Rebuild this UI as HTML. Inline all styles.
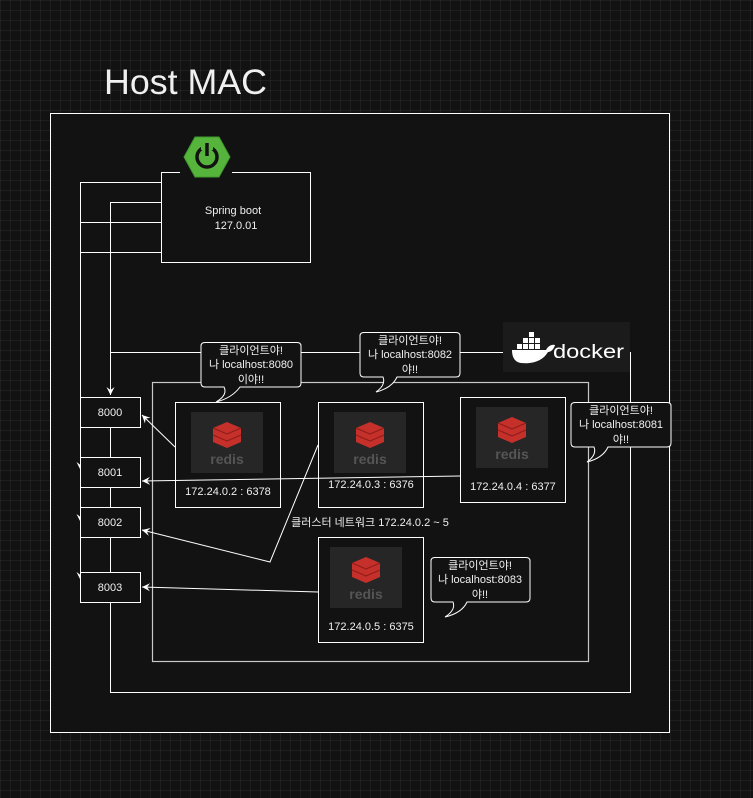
<!DOCTYPE html>
<html><head><meta charset="utf-8"><style>
html,body{margin:0;padding:0;}
body{width:753px;height:793px;overflow:hidden;background-color:#121212;
background-image:linear-gradient(rgba(255,255,255,0.05) 1px,transparent 1px),linear-gradient(90deg,rgba(255,255,255,0.05) 1px,transparent 1px);
background-size:10px 10px;}
svg text{font-family:"Liberation Sans","Noto Sans CJK KR",sans-serif;fill:#f0f0f0;}
</style></head><body>
<svg width="753" height="793" viewBox="0 0 753 793" xmlns="http://www.w3.org/2000/svg">
<defs>
<marker id="ar" markerWidth="10" markerHeight="10" refX="8" refY="5" orient="auto" markerUnits="userSpaceOnUse">
<path d="M0,1 L8,5 L0,9 L3,5 Z" fill="#fff"/></marker>
</defs>
<text x="104" y="94" font-size="35" textLength="163" lengthAdjust="spacingAndGlyphs">Host MAC</text>
<rect x="50.5" y="113.5" width="619" height="619" fill="#121212" stroke="#fff" stroke-width="1"/>
<g fill="none" stroke="#fff" stroke-width="1">
<path d="M161,182.5 H80.5 V580"/>
<path d="M80.5,222.5 H161 M80.5,252.5 H161"/>
<path d="M161,202.5 H110.5 V395" marker-end="url(#ar)"/>
<path d="M110.5,352.5 H503"/>
<path d="M80.5,440 V470" marker-end="url(#ar)"/>
<path d="M80.5,500 V522" marker-end="url(#ar)"/>
<path d="M80.5,560 V580" marker-end="url(#ar)"/>
<path d="M110.5,427 V457 M110.5,487 V507 M110.5,537 V572"/>
<path d="M110.5,602 V692.5 H630.5 V352"/>
</g>
<rect x="161.5" y="172.5" width="149" height="90" fill="#121212" stroke="#fff"/>
<text x="233" y="214" font-size="11" text-anchor="middle">Spring boot</text>
<text x="236" y="229" font-size="11" text-anchor="middle">127.0.01</text>
<rect x="180" y="168" width="52" height="8" fill="#121212"/>
<polygon points="184,157 195,137 219,137 230,157 219,177 195,177" fill="#56b43c" stroke="#3e9a2c"/>
<circle cx="207" cy="157" r="10" fill="none" stroke="#121212" stroke-width="3.5"/>
<rect x="201" y="142" width="12" height="8" fill="#56b43c"/>
<line x1="207" y1="143" x2="207" y2="156" stroke="#121212" stroke-width="3.5"/>
<rect x="503" y="322" width="127" height="50" fill="#1b1b1b"/>
<g fill="#fff">
<path d="M512,350 H546 C548,346 552,344 555,345 C554,349 551,352 548,352 C542,362 531,364 521,363 C514,362 512,356 512,350 Z"/>
<rect x="517" y="344" width="5" height="5"/><rect x="523" y="344" width="5" height="5"/><rect x="529" y="344" width="5" height="5"/><rect x="535" y="344" width="5" height="5"/>
<rect x="523" y="338" width="5" height="5"/><rect x="529" y="338" width="5" height="5"/><rect x="535" y="338" width="5" height="5"/><rect x="529" y="332" width="5" height="5"/>
</g>
<text x="553" y="358" font-size="19" textLength="71" lengthAdjust="spacingAndGlyphs" style="fill:#fff">docker</text>
<rect x="152.5" y="382.5" width="436" height="279" fill="none" stroke="#c8c8c8" stroke-width="1.2"/>
<text x="370" y="526" font-size="11" text-anchor="middle">클러스터 네트워크 172.24.0.2 ~ 5</text>
<g fill="#121212" stroke="#fff">
<rect x="80.5" y="397.5" width="60" height="30"/>
<rect x="80.5" y="457.5" width="60" height="30"/>
<rect x="80.5" y="507.5" width="60" height="30"/>
<rect x="80.5" y="572.5" width="60" height="30"/>
</g>
<g font-size="11" text-anchor="middle">
<text x="110" y="416">8000</text><text x="110" y="476">8001</text><text x="110" y="526">8002</text><text x="110" y="591">8003</text>
</g>
<g fill="#121212" stroke="#fff">
<rect x="175.5" y="402.5" width="105" height="105"/>
<rect x="318.5" y="402.5" width="105" height="105"/>
<rect x="460.5" y="397.5" width="105" height="105"/>
<rect x="318.5" y="537.5" width="105" height="105"/>
</g>
<g id="r1">
<rect x="191" y="412" width="72" height="61" fill="#262626"/>
<path d="M213,428 L227,422 L241,428 L241,442 L227,448 L213,442 Z" fill="#c6302b"/>
<path d="M213,428 L227,434 L241,428 M213,435 L227,441 L241,435" fill="none" stroke="#8f1d19" stroke-width="1.2"/>
<text x="227" y="464" font-size="14" font-weight="bold" text-anchor="middle" style="fill:#555">redis</text>
</g>
<use href="#r1" x="143" y="0"/>
<use href="#r1" x="285" y="-5"/>
<use href="#r1" x="139" y="135"/>
<g font-size="11" text-anchor="middle">
<text x="228" y="495">172.24.0.2 : 6378</text>
<text x="371" y="488">172.24.0.3 : 6376</text>
<text x="513" y="490">172.24.0.4 : 6377</text>
<text x="371" y="630">172.24.0.5 : 6375</text>
</g>
<g fill="none" stroke="#fff" stroke-width="1">
<path d="M175,447 L142,415" marker-end="url(#ar)"/>
<path d="M460,476 L142,481" marker-end="url(#ar)"/>
<path d="M318,445 L270,562 L142,530" marker-end="url(#ar)"/>
<path d="M318,592 L142,587" marker-end="url(#ar)"/>
</g>
<g fill="#121212" stroke="#fff" stroke-width="1">
<path d="M205,342.5 H297 Q301,342.5 301,346 V383 Q301,387 297,387 H240 Q232,398 216,402 Q228,395 224,387 H205 Q201,387 201,383 V346 Q201,342.5 205,342.5 Z"/>
<path d="M364,332.5 H456 Q460,332.5 460,336 V373 Q460,377 456,377 H397 Q392,388 376,392 Q386,385 383,377 H364 Q360,377 360,373 V336 Q360,332.5 364,332.5 Z"/>
<path d="M575,402.5 H667 Q671,402.5 671,406 V443 Q671,447 667,447 H608 Q603,458 587,462 Q597,455 594,447 H575 Q571,447 571,443 V406 Q571,402.5 575,402.5 Z"/>
<path d="M435,557.5 H526 Q530,557.5 530,561 V598 Q530,602 526,602 H467 Q462,613 445,617 Q456,610 453,602 H435 Q431,602 431,598 V561 Q431,557.5 435,557.5 Z"/>
</g>
<g font-size="11" text-anchor="middle">
<text x="251" y="354">클라이언트야!</text><text x="251" y="368">나 localhost:8080</text><text x="251" y="383">이야!!</text>
<text x="410" y="344">클라이언트야!</text><text x="410" y="358">나 localhost:8082</text><text x="410" y="373">야!!</text>
<text x="621" y="414">클라이언트야!</text><text x="621" y="428">나 localhost:8081</text><text x="621" y="443">야!!</text>
<text x="480" y="569">클라이언트야!</text><text x="480" y="583">나 localhost:8083</text><text x="480" y="598">야!!</text>
</g>
</svg>
</body></html>
